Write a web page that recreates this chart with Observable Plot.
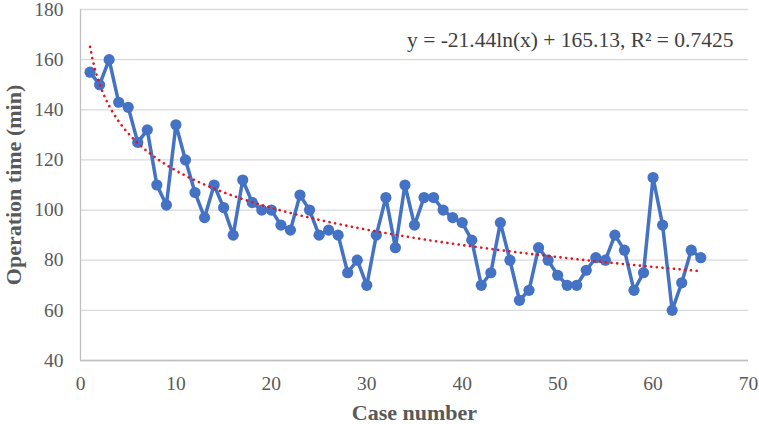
<!DOCTYPE html>
<html>
<head>
<meta charset="utf-8">
<script src="https://cdn.jsdelivr.net/npm/d3@7"></script>
<script src="https://cdn.jsdelivr.net/npm/@observablehq/plot@0.6"></script>
<style>
  html, body { margin: 0; padding: 0; background: #fff; }
  svg text { font-family: "Liberation Serif", "Times New Roman", serif; }
</style>
</head>
<body>
<div id="chart"></div>
<script>
const caseNumbers = d3.range(1, 66);
const operationTimes = [
  155, 150, 160, 143, 141, 127, 132, 110, 102, 134,
  120, 107, 97, 110, 101, 90, 112, 103, 100, 100,
  94, 92, 106, 100, 90, 92, 90, 75, 80, 70,
  90, 105, 85, 110, 94, 105, 105, 100, 97, 95,
  88, 70, 75, 95, 80, 64, 68, 85, 80, 74,
  70, 70, 76, 81, 80, 90, 84, 68, 75, 113,
  94, 60, 71, 84, 81
];
const xTicks = [0, 10, 20, 30, 40, 50, 60, 70];
const yTicks = [40, 60, 80, 100, 120, 140, 160, 180];
const trendA = -21.44, trendB = 165.13;
const eqLabel = "y = -21.44ln(x) + 165.13, R² = 0.7425";

const data = caseNumbers.map((c, i) => ({x: c, y: operationTimes[i]}));
const trendXs = d3.range(1, 65.01, 0.25);
const trend = trendXs.map(x => ({x, y: trendA * Math.log(x) + trendB}));

const serif = "Liberation Serif";

const chart = Plot.plot({
  width: 759,
  height: 424,
  marginLeft: 80,
  marginRight: 11,
  marginTop: 9,
  marginBottom: 64,
  style: {fontFamily: "'Liberation Serif', 'Times New Roman', serif", fontSize: "19.5px", color: "#595959", background: "#fff"},
  x: {domain: [0, 70]},
  y: {domain: [40, 180]},
  marks: [
    Plot.gridY(yTicks, {stroke: "#d9d9d9", strokeOpacity: 1, strokeWidth: 1.3}),
    Plot.ruleX([0], {stroke: "#bfbfbf", strokeWidth: 1.3}),
    Plot.ruleY([40], {stroke: "#bfbfbf", strokeWidth: 1.3}),
    Plot.axisX(xTicks, {tickSize: 0, tickPadding: 16, fill: "#595959", label: null, fontFamily: serif, fontSize: 19.5}),
    Plot.axisY(yTicks, {tickSize: 0, tickPadding: 17, fill: "#595959", label: null, fontFamily: serif, fontSize: 19.5}),
    Plot.line(data, {x: "x", y: "y", stroke: "#4472c4", strokeWidth: 3.5}),
    Plot.dot(data, {x: "x", y: "y", r: 5.6, fill: "#4472c4", stroke: "none"}),
    Plot.line(trend, {x: "x", y: "y", stroke: "#e8141c", strokeWidth: 2.6, strokeDasharray: "0.1 5.6", strokeLinecap: "round"}),
    Plot.text([eqLabel], {frameAnchor: "top-right", dx: -15, dy: 31, lineAnchor: "middle", textAnchor: "end", fontSize: 21.5, fontFamily: serif, fill: "#404040"}),
    Plot.text(["Case number"], {frameAnchor: "bottom", dy: 52, lineAnchor: "middle", textAnchor: "middle", fontSize: 22, fontFamily: serif, fontWeight: "bold", fill: "#595959"}),
    Plot.text(["Operation time (min)"], {frameAnchor: "left", dx: -67, rotate: -90, lineAnchor: "middle", textAnchor: "middle", fontSize: 22, fontFamily: serif, fontWeight: "bold", fill: "#595959"})
  ]
});
document.getElementById("chart").appendChild(chart);
</script>
</body>
</html>
